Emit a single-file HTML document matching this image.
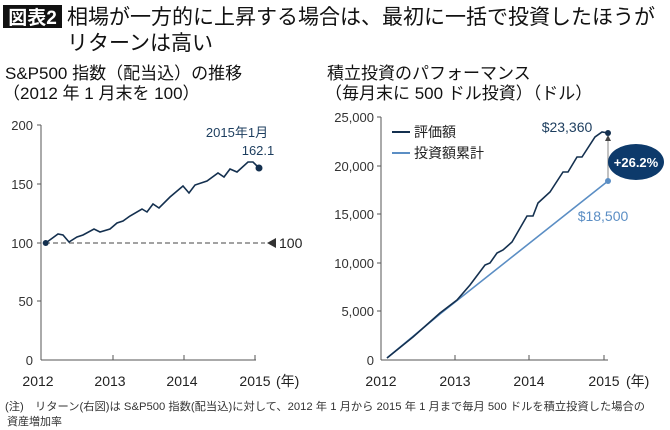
<!DOCTYPE html>
<html><head><meta charset="utf-8"><style>
body{margin:0;background:#fff;}
svg{display:block;font-family:"Liberation Sans","Noto Sans CJK JP",sans-serif;}
</style></head><body>
<svg width="670" height="430" viewBox="0 0 670 430" xmlns="http://www.w3.org/2000/svg">
<rect x="3" y="5" width="59" height="23" fill="#111"/>
<text x="32.5" y="24" fill="#fff" font-size="19" font-weight="bold" text-anchor="middle">図表2</text>
<text x="67" y="24" font-size="21" fill="#111">相場が一方的に上昇する場合は、最初に一括で投資したほうが</text>
<text x="67" y="50" font-size="21" fill="#111">リターンは高い</text>
<text x="5" y="79" font-size="17" fill="#111">S&amp;P500 指数（配当込）の推移</text>
<text x="3" y="99" font-size="17" fill="#111">（2012 年 1 月末を 100）</text>
<text x="327" y="79" font-size="17" fill="#111">積立投資のパフォーマンス</text>
<text x="325" y="99" font-size="17" fill="#111">（毎月末に 500 ドル投資）（ドル）</text>

<g stroke="#555" stroke-width="1" fill="none">
<line x1="41" y1="125" x2="41" y2="360"/>
<line x1="41" y1="360" x2="256" y2="360"/>
<line x1="37" y1="125" x2="41" y2="125"/>
<line x1="37" y1="184" x2="41" y2="184"/>
<line x1="37" y1="243" x2="41" y2="243"/>
<line x1="37" y1="301" x2="41" y2="301"/>
<line x1="113" y1="360" x2="113" y2="355"/>
<line x1="184" y1="360" x2="184" y2="355"/>
<line x1="255" y1="360" x2="255" y2="355"/>
</g>
<g font-size="13" fill="#333" text-anchor="end">
<text x="33" y="130">200</text><text x="33" y="189">150</text><text x="33" y="248">100</text><text x="33" y="306">50</text><text x="33" y="365">0</text>
</g>
<g font-size="14" fill="#222" text-anchor="middle">
<text x="38" y="386">2012</text><text x="110" y="386">2013</text><text x="182" y="386">2014</text><text x="255" y="386">2015</text>
</g>
<text x="276" y="386" font-size="14" fill="#222">(年)</text>
<text x="626" y="386" font-size="14" fill="#222">(年)</text>
<line x1="45" y1="243" x2="265" y2="243" stroke="#444" stroke-dasharray="5,3"/>
<polygon points="267,243 276,238 276,248" fill="#333"/>
<text x="279" y="248" font-size="14" fill="#222">100</text>
<polyline fill="none" stroke="#14304f" stroke-width="1.6" points="45.7,243 58,234 63,235 69,242 77,237 83,235 94,229 100,232 110,229 117,223 123,221 130,216 142,209 147,212 153,204 159,208 170,197 183,186 189,193 195,185 207,181 218,173 224,177 230,169 237,172 248,162 253,162 259,168"/>
<circle cx="45.7" cy="243" r="3" fill="#14304f"/>
<circle cx="259" cy="168" r="3.5" fill="#14304f"/>
<text x="237" y="137" font-size="13" fill="#1c3d5e" text-anchor="middle">2015年1月</text>
<text x="258" y="155" font-size="13" fill="#1c3d5e" text-anchor="middle">162.1</text>

<g stroke="#555" stroke-width="1" fill="none">
<line x1="381" y1="117" x2="381" y2="360"/>
<line x1="381" y1="360" x2="608" y2="360"/>
<line x1="377" y1="117" x2="381" y2="117"/>
<line x1="377" y1="166" x2="381" y2="166"/>
<line x1="377" y1="214" x2="381" y2="214"/>
<line x1="377" y1="263" x2="381" y2="263"/>
<line x1="377" y1="311" x2="381" y2="311"/>
<line x1="455" y1="360" x2="455" y2="355"/>
<line x1="529" y1="360" x2="529" y2="355"/>
<line x1="604" y1="360" x2="604" y2="355"/>
</g>
<g font-size="13" fill="#333" text-anchor="end">
<text x="374" y="122">25,000</text><text x="374" y="171">20,000</text><text x="374" y="219">15,000</text><text x="374" y="268">10,000</text><text x="374" y="316">5,000</text><text x="374" y="365">0</text>
</g>
<g font-size="14" fill="#222" text-anchor="middle">
<text x="381" y="386">2012</text><text x="455" y="386">2013</text><text x="529" y="386">2014</text><text x="604" y="386">2015</text>
</g>
<polyline fill="none" stroke="#5b8ec4" stroke-width="1.6" points="387,358 440,314 608,181"/>
<polyline fill="none" stroke="#14304f" stroke-width="1.6" points="387,358 413,337 440,313 457,300 470,285 485,265 490,263 497,253 503,250 512,242 527,216 533,216 538,203 550,192 563,172 568,172 577,157 582,157 595,137 602,132 608,133"/>
<line x1="608" y1="137" x2="608" y2="181" stroke="#999" stroke-width="1.2"/>
<polygon points="608,135 605,141 611,141" fill="#444"/>
<circle cx="608" cy="133" r="3" fill="#14304f"/>
<circle cx="608" cy="181" r="3" fill="#5b8ec4"/>
<line x1="392" y1="132" x2="410" y2="132" stroke="#14304f" stroke-width="2"/>
<text x="414" y="137" font-size="14" fill="#222">評価額</text>
<line x1="392" y1="153" x2="410" y2="153" stroke="#5b8ec4" stroke-width="2"/>
<text x="414" y="158" font-size="14" fill="#222">投資額累計</text>
<text x="567" y="132" font-size="14" fill="#1c3d5e" text-anchor="middle">$23,360</text>
<text x="603" y="221" font-size="14" fill="#5b8ec4" text-anchor="middle">$18,500</text>
<ellipse cx="636" cy="162" rx="28" ry="18" fill="#0d3a6b"/>
<text x="636" y="167" font-size="13" font-weight="bold" fill="#fff" text-anchor="middle">+26.2%</text>

<text x="5" y="410" font-size="11" fill="#333" textLength="640" lengthAdjust="spacingAndGlyphs">(注)　リターン(右図)は S&amp;P500 指数(配当込)に対して、2012 年 1 月から 2015 年 1 月まで毎月 500 ドルを積立投資した場合の</text>
<text x="7" y="425" font-size="11" fill="#333">資産増加率</text>
</svg>
</body></html>
